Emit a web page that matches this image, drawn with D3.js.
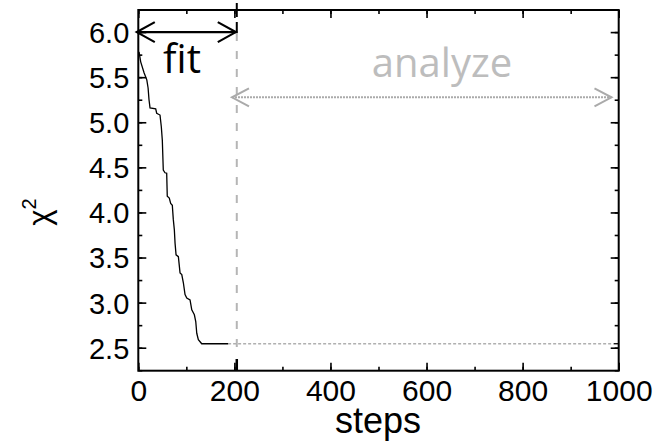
<!DOCTYPE html>
<html><head><meta charset="utf-8">
<script src="https://cdn.jsdelivr.net/npm/d3@7"></script>
<style>body{margin:0;background:#fff;}svg{display:block;}</style>
</head><body>
<svg id="chart" width="658" height="444"></svg>
<script>
// ---- data ----
const fitSteps = [1.5,5,12,17.7,20.4,22.3,24.4,36.2,38.3,45.2,47.9,50,52,55.6,59.1,60.3,64.5,67.4,70.8,72.9,75,76.5,78.6,83.4,86.9,90.5,93.8,97.3,100.9,107.7,111.3,116.7,119.6,121.7,125,132,187];
const fitChi2  = [5.78,5.67,5.55,5.47,5.38,5.25,5.16,5.15,5.10,5.08,4.95,4.80,4.47,4.44,4.435,4.18,4.16,4.10,4.08,3.92,3.81,3.66,3.53,3.51,3.33,3.31,3.22,3.09,3.05,3.03,2.92,2.865,2.79,2.66,2.59,2.544,2.544];
const analyzeSteps = [187, 990];
const analyzeChi2  = [2.544, 2.544];
const tailSteps = [990, 1000];
const tailChi2  = [2.544, 2.544];
const xTicks = [0,200,400,600,800,1000];
const yTicks = [2.5,3.0,3.5,4.0,4.5,5.0,5.5,6.0];
const fitEnd = 205;          // boundary between fit and analyze
const fitLabel = "fit";
const analyzeLabel = "analyze";
const xTitle = "steps";

// ---- layout ----
const svg = d3.select("#chart");
const L = 138.3, R = 618.7, T = 10, B = 370.7;
const x = d3.scaleLinear().domain([0,1000]).range([L,R]);
const y = d3.scaleLinear().domain([2.245,6.245]).range([B,T]);

const font = "'Liberation Sans', Arial, sans-serif";

// ticks (inward) on all sides
function tickSet(axisGen, tx, ty){
  const g = svg.append("g").attr("transform",`translate(${tx},${ty})`).call(axisGen);
  g.select(".domain").remove();
  g.selectAll("line").attr("stroke","#000").attr("stroke-width",1.6);
  g.selectAll("text").remove();
  return g;
}
const xMinor = d3.range(0,1001,100);
const yMinor = d3.range(2.25,6.2,0.25);
tickSet(d3.axisTop(x).tickValues(xMinor).tickSize(4),0,B);
tickSet(d3.axisTop(x).tickValues(xTicks).tickSize(8),0,B);
tickSet(d3.axisBottom(x).tickValues(xMinor).tickSize(4),0,T);
tickSet(d3.axisBottom(x).tickValues(xTicks).tickSize(8),0,T);
tickSet(d3.axisRight(y).tickValues(yMinor).tickSize(4),L,0);
tickSet(d3.axisRight(y).tickValues(yTicks).tickSize(8),L,0);
tickSet(d3.axisLeft(y).tickValues(yMinor).tickSize(4),R,0);
tickSet(d3.axisLeft(y).tickValues(yTicks).tickSize(8),R,0);

// tick labels
const xl = svg.append("g").attr("transform",`translate(0,${B})`)
  .call(d3.axisBottom(x).tickValues(xTicks).tickSize(0).tickPadding(30).tickFormat(d3.format("d")));
xl.select(".domain").remove();
xl.selectAll("text").attr("font-family",font).attr("font-size",30).attr("fill","#000").attr("dy","0");
const yl = svg.append("g").attr("transform",`translate(${L},0)`)
  .call(d3.axisLeft(y).tickValues(yTicks).tickSize(0).tickPadding(9).tickFormat(d3.format(".1f")));
yl.select(".domain").remove();
yl.selectAll("text").attr("font-family",font).attr("font-size",29).attr("fill","#000").attr("dy","0.36em");

// frame
svg.append("rect").attr("x",L).attr("y",T).attr("width",R-L).attr("height",B-T)
  .attr("fill","none").attr("stroke","#000").attr("stroke-width",2);

// vertical separation line
const vx = x(fitEnd);
svg.append("line").attr("x1",vx).attr("x2",vx).attr("y1",33).attr("y2",357)
  .attr("stroke","#b5b5b5").attr("stroke-width",2).attr("stroke-dasharray","8,10");
svg.append("line").attr("x1",vx).attr("x2",vx).attr("y1",3).attr("y2",33)
  .attr("stroke","#000").attr("stroke-width",2).attr("stroke-dasharray","14,5");
svg.append("line").attr("x1",vx).attr("x2",vx).attr("y1",359).attr("y2",B)
  .attr("stroke","#000").attr("stroke-width",2.5);

// data lines
const line = d3.line().x(d=>x(d[0])).y(d=>y(d[1]));
svg.append("path").datum(analyzeSteps.map((s,i)=>[s,analyzeChi2[i]]))
  .attr("d",line).attr("fill","none").attr("stroke","#b0b0b0").attr("stroke-width",1.4).attr("stroke-dasharray","3,2");
svg.append("path").datum(fitSteps.map((s,i)=>[s,fitChi2[i]]))
  .attr("d",line).attr("fill","none").attr("stroke","#000").attr("stroke-width",1.3);
svg.append("path").datum(tailSteps.map((s,i)=>[s,tailChi2[i]]))
  .attr("d",line).attr("fill","none").attr("stroke","#000").attr("stroke-width",1.3);

// double arrows
function dblArrow(x1,x2,yy,color,w,dash,len,hw){
  const g = svg.append("g").attr("fill","none").attr("stroke",color).attr("stroke-width",w);
  g.append("line").attr("x1",x1).attr("x2",x2).attr("y1",yy).attr("y2",yy).attr("stroke-dasharray",dash);
  g.append("path").attr("d",`M${x1+len},${yy-hw}L${x1},${yy}L${x1+len},${yy+hw}`);
  g.append("path").attr("d",`M${x2-len},${yy-hw}L${x2},${yy}L${x2-len},${yy+hw}`);
}
dblArrow(L-1.5, vx-1, y(6.0), "#000", 2.2, null, 18, 10);
dblArrow(x(195), x(985), 97.3, "#aaaaaa", 2, "2,1", 17, 9);

// annotation labels
svg.append("text").attr("x",182).attr("y",73).attr("text-anchor","middle")
  .attr("font-family","'Open Sans', sans-serif").attr("font-size",40).attr("fill","#000").text(fitLabel);
svg.append("text").attr("x",442).attr("y",77).attr("text-anchor","middle")
  .attr("font-family","'Open Sans', sans-serif").attr("font-size",40).attr("fill","#bdbdbd").text(analyzeLabel);

// axis titles
svg.append("text").attr("x",378).attr("y",433).attr("text-anchor","middle")
  .attr("font-family",font).attr("font-size",36).attr("fill","#000").text(xTitle);
const yt = svg.append("text").attr("transform","translate(50,212) rotate(-90)")
  .attr("text-anchor","middle").attr("font-family",font).attr("font-size",31).attr("fill","#000");
yt.append("tspan").text("χ");
yt.append("tspan").attr("dy",-14).attr("font-size",20).text("2");
</script>
</body></html>
